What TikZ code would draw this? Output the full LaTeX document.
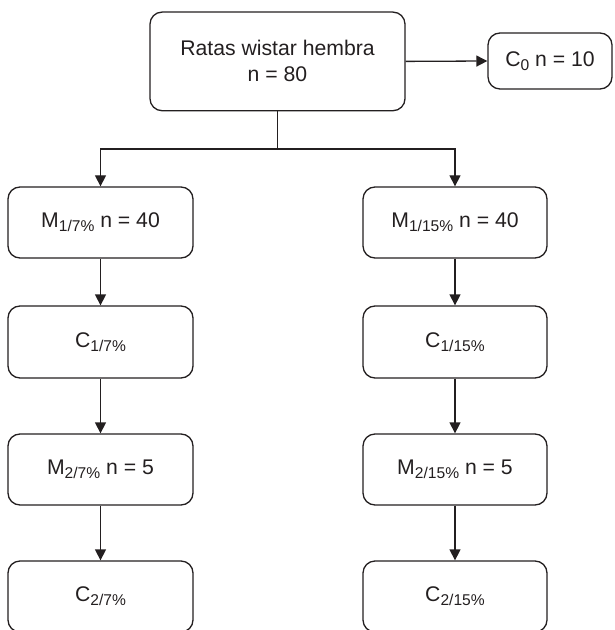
\documentclass[tikz,border=0pt]{standalone}
\usepackage{fontspec}
\setmainfont{Liberation Sans}
\usetikzlibrary{arrows.meta}
\definecolor{ink}{HTML}{231F20}
\newcommand{\subidx}[1]{\raisebox{-2.1pt}{\fontsize{7.8pt}{9pt}\selectfont #1}}
\begin{document}
\begin{tikzpicture}[x=0.5pt,y=-0.5pt,
  box/.style={draw=ink,line width=0.65pt,rounded corners=6pt,align=center,inner sep=0pt,
    text=ink,font=\fontsize{10.6pt}{13pt}\selectfont},
  arr/.style={draw=ink,line width=0.65pt,-{Triangle[length=5.5pt,width=5.5pt]}},
  ln/.style={draw=ink,line width=0.65pt}]
\clip (0,0) rectangle (614,630);
\node[box,minimum width=127.5pt,minimum height=49.3pt] (top) at (277.5,61.4) {Ratas wistar hembra\\n = 80};
\node[box,minimum width=62pt,minimum height=28pt] (c0) at (550,61) {C\subidx{0} n = 10};
\node[box,minimum width=92.5pt,minimum height=35.5pt] (m17) at (100.5,222.5) {M\subidx{1/7\%} n = 40};
\node[box,minimum width=92pt,minimum height=35.5pt] (m115) at (455,222.5) {M\subidx{1/15\%} n = 40};
\node[box,minimum width=92.5pt,minimum height=36pt] (c17) at (100.5,342) {C\subidx{1/7\%}};
\node[box,minimum width=92pt,minimum height=36pt] (c115) at (455,342) {C\subidx{1/15\%}};
\node[box,minimum width=92.5pt,minimum height=35.5pt] (m27) at (100.5,469.5) {M\subidx{2/7\%} n = 5};
\node[box,minimum width=92pt,minimum height=35.5pt] (m215) at (455,469.5) {M\subidx{2/15\%} n = 5};
\node[box,minimum width=92.5pt,minimum height=35.5pt] (c27) at (100.5,596.5) {C\subidx{2/7\%}};
\node[box,minimum width=92pt,minimum height=35.5pt] (c215) at (455,596.5) {C\subidx{2/15\%}};
\coordinate (j) at (277.5,149);
\draw[arr] (top.east) -- (c0.west);
\draw[ln] (top.south) -- (j);
\draw[arr] (j) -| (m17.north);
\draw[arr] (j) -| (m115.north);
\draw[arr] (m17) -- (c17);
\draw[arr] (c17) -- (m27);
\draw[arr] (m27) -- (c27);
\draw[arr] (m115) -- (c115);
\draw[arr] (c115) -- (m215);
\draw[arr] (m215) -- (c215);
\end{tikzpicture}
\end{document}
